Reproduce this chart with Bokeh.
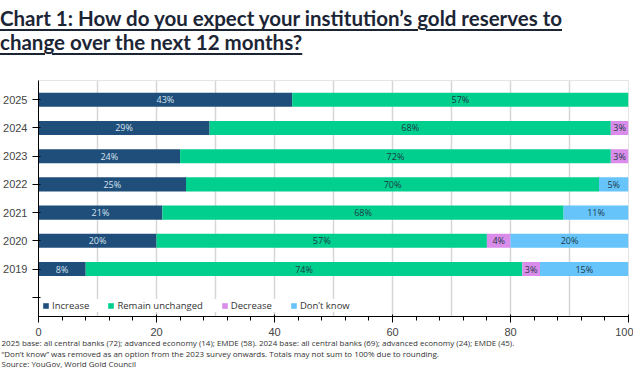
from bokeh.plotting import figure
from bokeh.models import (FactorRange, Range1d, Legend, LegendItem, ColumnDataSource,
                          Div, FixedTicker)
from bokeh.layouts import column
from bokeh.embed import file_html
from bokeh.resources import INLINE
from bokeh.core.properties import value

# ---------------- data ----------------
years = ["2025", "2024", "2023", "2022", "2021", "2020", "2019"]
legend_row = " "
series = ["Increase", "Remain unchanged", "Decrease", "Don\u2019t know"]
increase = [43, 29, 24, 25, 21, 20, 8]
unchanged = [57, 68, 73, 70, 68, 56, 74]
decrease = [0, 3, 3, 0, 0, 4, 3]
dont_know = [0, 0, 0, 5, 11, 20, 15]
increase_labels = ["43%", "29%", "24%", "25%", "21%", "20%", "8%"]
unchanged_labels = ["57%", "68%", "72%", "70%", "68%", "57%", "74%"]
decrease_labels = ["", "3%", "3%", "", "", "4%", "3%"]
dont_know_labels = ["", "", "", "5%", "11%", "20%", "15%"]
x_ticks = [0, 10, 20, 30, 40, 50, 60, 70, 80, 90, 100]

title_lines = ["Chart 1: How do you expect your institution\u2019s gold reserves to",
               "change over the next 12 months?"]
footer_lines = [
    "2025 base: all central banks (72); advanced economy (14); EMDE (58). 2024 base: all central banks (69); advanced economy (24); EMDE (45).",
    "\u201cDon\u2019t know\u201d was removed as an option from the 2023 survey onwards. Totals may not sum to 100% due to rounding.",
    "Source: YouGov, World Gold Council",
]

colors = ["#1f4e7a", "#00cf8d", "#d98ce9", "#66c4fb"]
label_colors = ["#d5e3ef", "#1d3a47", "#1d3a47", "#1d3a47"]

# ---------------- title ----------------
u = ('<span style="text-decoration: underline; text-decoration-thickness: 1.5px; '
     'text-underline-offset: 3px;">')
title_div = Div(
    text='<div style="font-family: Lato; font-weight: 700; font-size: 20.5px; line-height: 24px; '
         'color: #1c2535; white-space: nowrap; padding-top: 6px;">'
         + u + title_lines[0] + '</span><br>' + u + title_lines[1] + '</span></div>',
    width=633, height=75, margin=(0, 0, 0, 0))

# ---------------- figure ----------------
keys = ["increase", "unchanged", "decrease", "dont_know"]
src = ColumnDataSource(dict(year=years, increase=increase, unchanged=unchanged,
                            decrease=decrease, dont_know=dont_know))

p = figure(width=633, height=263, output_backend="svg", toolbar_location=None,
           y_range=FactorRange(factors=[legend_row] + years[::-1], range_padding=0.046),
           x_range=Range1d(0, 100))

renderers = p.hbar_stack(keys, y="year", height=0.5, color=colors, source=src,
                         line_color=None)

# segment labels, centred in each segment
lx, ly, lt, lc = [], [], [], []
vals = [increase, unchanged, decrease, dont_know]
labs = [increase_labels, unchanged_labels, decrease_labels, dont_know_labels]
for i, y in enumerate(years):
    left = 0
    for s in range(4):
        v = vals[s][i]
        if v > 0 and labs[s][i]:
            lx.append(left + v / 2)
            ly.append(y)
            lt.append(labs[s][i])
            lc.append(label_colors[s])
        left += v
lsrc = ColumnDataSource(dict(x=lx, y=ly, text=lt, color=lc))
p.text(x="x", y="y", text="text", text_color="color", source=lsrc,
       text_align="center", text_baseline="middle",
       text_font=value("Open Sans"), text_font_size="9px")

# grid
p.xgrid.ticker = FixedTicker(ticks=x_ticks)
p.xgrid.grid_line_color = "#d6d6d6"
p.xgrid.grid_line_width = 1.5
p.ygrid.grid_line_color = None

# legend inside the frame, in the bottom band
legend = Legend(items=[LegendItem(label=series[k], renderers=[renderers[k]]) for k in range(4)],
                orientation="horizontal", location="bottom_left", margin=4, padding=3,
                spacing=18, label_standoff=3, glyph_width=7, glyph_height=7,
                label_height=12, label_text_font="Open Sans", label_text_font_size="9.5px",
                label_text_color="#333333", border_line_color=None,
                background_fill_color="white", background_fill_alpha=1.0)
p.add_layout(legend)

# ---------------- footer ----------------
footer_div = Div(
    text='<div style="font-family: \'Open Sans\'; font-size: 8px; line-height: 10.5px; '
         'color: #333333; white-space: nowrap; padding-left: 1.5px;">'
         + "<br>".join(footer_lines) + '</div>',
    width=633, height=32, margin=(0, 0, 0, 0))

layout = column(title_div, p, footer_div, spacing=0)
open("out.html", "w").write(file_html(layout, INLINE))
